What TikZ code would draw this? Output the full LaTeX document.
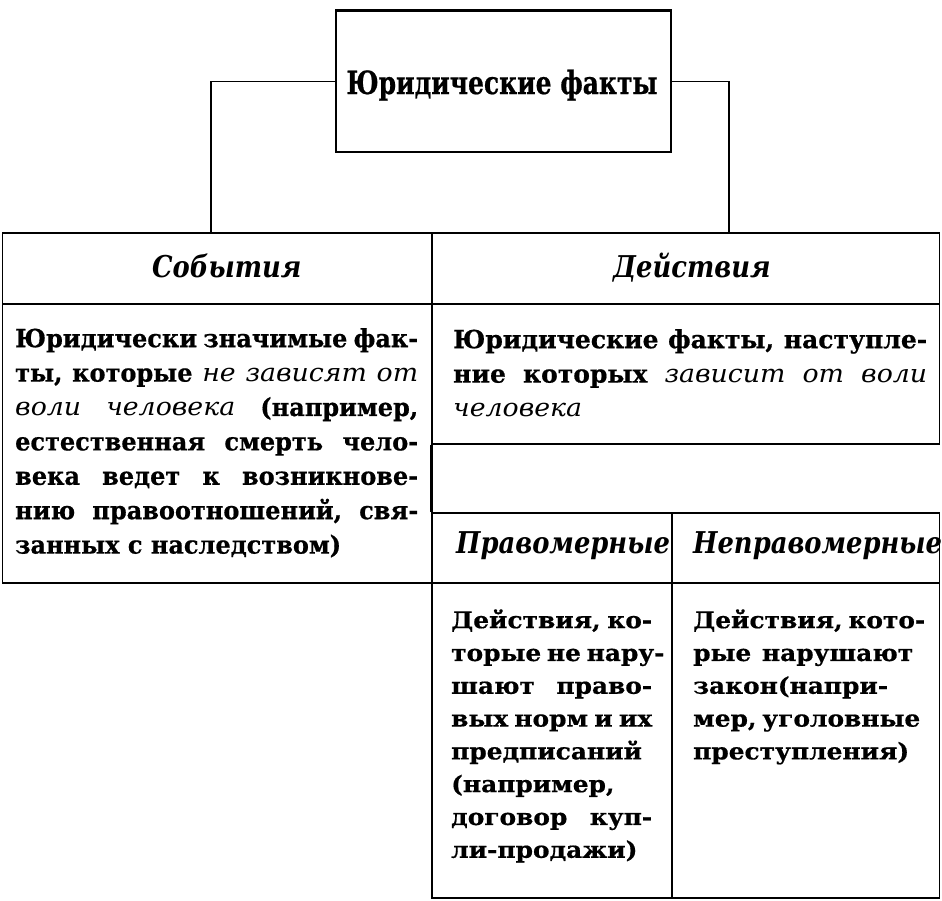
\documentclass[tikz,border=0pt]{standalone}
\usepackage{fontspec}
\setmainfont{DejaVu Serif}[BoldFeatures={FakeBold=0.6}]
\newfontfamily\leftfont{DejaVu Serif}[FakeStretch=0.96,BoldFeatures={FakeBold=0.6}]
\newfontfamily\botfont{DejaVu Serif}[FakeStretch=1.08,BoldFeatures={FakeBold=0.6}]
\newfontfamily\itfont{DejaVu Serif}[FakeStretch=1.07]
\newfontfamily\headfont{DejaVu Serif}[FakeStretch=0.86]
\newfontfamily\titlefont{DejaVu Serif}[FakeStretch=0.78,BoldFeatures={FakeBold=0.6}]
\newcommand{\jl}[2]{\leavevmode\hbox to #1{#2}}
\newcommand{\gap}{\hspace{0.3em plus 1fill minus 0.05em}}
\newcommand{\lit}[1]{{\itfont\mdseries\itshape #1}}
\begin{document}
\begin{tikzpicture}[x=1pt,y=-1pt,
  cell/.style={draw,line width=1.8pt,rectangle,inner sep=0pt},
  conn/.style={line width=1.8pt},
  bodytext/.style={anchor=north west,inner sep=0pt,text width=#1,align=left,
    font=\fontsize{25}{34.4}\selectfont\bfseries},
  lefttext/.style={anchor=north west,inner sep=0pt,text width=#1,align=left,
    font=\leftfont\fontsize{25}{34.4}\selectfont\bfseries},
  smalltext/.style={anchor=north west,inner sep=0pt,text width=#1,align=left,
    font=\botfont\fontsize{23}{32.8}\selectfont\bfseries},
  headtext/.style={anchor=base west,inner sep=0pt,
    font=\headfont\fontsize{30}{34}\selectfont\bfseries\itshape},
  titletext/.style={anchor=base,inner sep=0pt,
    font=\titlefont\fontsize{32}{36}\selectfont\bfseries}]
\useasboundingbox (0,0) rectangle (942,900);
\fill[white] (0,0) rectangle (942,900);

% boxes
\node[cell,minimum width=335pt,minimum height=141pt] (top) at (503.5,81.5) {};
\draw[line width=3.2pt] (top.north west) -- (top.north east);
\node[cell,minimum width=429.5pt,minimum height=71pt] (sob) at (217.25,268.5) {};
\node[cell,minimum width=507.5pt,minimum height=71pt] (dej) at (685.75,268.5) {};
\node[cell,minimum width=429.5pt,minimum height=279pt] (sobbox) at (217.25,443.5) {};
\node[cell,minimum width=507.5pt,minimum height=140pt] (dejbox) at (685.75,374) {};
\node[cell,minimum width=240pt,minimum height=70pt] (prav) at (552,548) {};
\node[cell,minimum width=267.5pt,minimum height=70pt] (neprav) at (805.75,548) {};
\node[cell,minimum width=240pt,minimum height=315pt] (pravbox) at (552,740.5) {};
\node[cell,minimum width=267.5pt,minimum height=315pt] (nepravbox) at (805.75,740.5) {};

% connectors
\draw[conn] (top.west) -| ([xshift=-6.25pt]sob.north);
\draw[conn] (top.east) -| ([xshift=43.25pt]dej.north);
\draw[conn] (dejbox.south west) -- (prav.north west);

% texts
\node[titletext] (toptxt) at (502,94) {Юридические факты};
\node[headtext] (sobtxt) at (152,277) {События};
\node[headtext] (dejtxt) at (613,277) {Действия};
\node[headtext] (pravtxt) at (456,553) {Правомерные};
\node[headtext] (nepravtxt) at (693,553) {Неправомерные};

\node[lefttext=403pt] (sobbody) at (15,322.9) {\strut\jl{403pt}{Юридически\gap значимые\gap фак-}\\
\jl{403pt}{ты,\gap которые\gap\lit{не\gap зависят\gap от}}\\
\jl{403pt}{\lit{воли\gap человека}\gap(например,}\\
\jl{403pt}{естественная\gap смерть\gap чело-}\\
\jl{403pt}{века\gap ведет\gap к\gap возникнове-}\\
\jl{403pt}{нию\gap правоотношений,\gap свя-}\\
\mbox{занных с наследством)}};

\node[bodytext=474pt] (dejbody) at (453,323.9) {\strut\jl{474pt}{Юридические\gap факты,\gap наступле-}\\
\jl{474pt}{ние\gap которых\gap\lit{зависит\gap от\gap воли}}\\
\mbox{\lit{человека}}};

\node[smalltext=201pt] (pravbody) at (451,605) {\strut\jl{201pt}{Действия,\gap ко-}\\
\jl{201pt}{торые\gap не\gap нару-}\\
\jl{201pt}{шают\gap право-}\\
\jl{201pt}{вых\gap норм\gap и\gap их}\\
\mbox{предписаний}\\
\mbox{(например,}\\
\jl{201pt}{договор\gap куп-}\\
\mbox{ли-продажи)}};

\node[smalltext=220pt] (nepravbody) at (693,605) {\strut\jl{220pt}{Действия,\gap кото-}\\
\jl{220pt}{рые\gap нарушают}\\
\mbox{закон(напри-}\\
\jl{220pt}{мер,\gap уголовные}\\
\mbox{преступления)}};
\end{tikzpicture}
\end{document}
